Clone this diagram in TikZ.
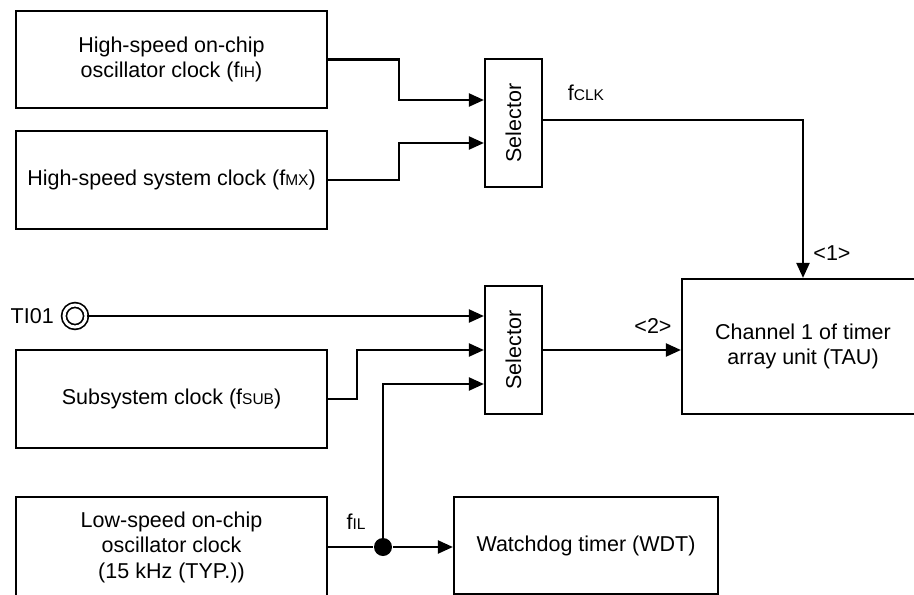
\documentclass[tikz,border=0pt]{standalone}
\usepackage{graphicx}
\usepackage{fontspec}
\setmainfont{Liberation Sans}
\usetikzlibrary{arrows.meta,positioning}
\newcommand{\fsub}[1]{{\fontsize{15.5}{15.5}\selectfont #1}}

\begin{document}
\begin{tikzpicture}[x=1pt, y=-1pt, line width=2.2pt, line join=miter, font=\fontsize{21.5}{25.5}\selectfont,
  blk/.style={draw, inner sep=0pt, align=center, minimum width=311pt},
  sel/.style={draw, inner sep=0pt, minimum width=57pt, minimum height=128pt},
  arr/.style={-{Triangle[length=15pt,width=13pt]}},
  pin/.style={draw, circle, double, double distance=3pt, line width=1.7pt, minimum size=22pt, inner sep=0pt},
  dot/.style={fill, circle, minimum size=18pt, inner sep=0pt}]
\useasboundingbox (0,0) rectangle (914,595);
\node[blk, minimum height=97pt] (hsoco) at (171.5,59.5) {High-speed on-chip\\oscillator clock (f\fsub{IH})};
\node[blk, minimum height=98pt] (hssc) at (171.5,180) {High-speed system clock (f\fsub{MX})};
\node[blk, minimum height=98pt] (subclk) at (171.5,399) {Subsystem clock (f\fsub{SUB})};
\node[blk, minimum height=100pt] (lsoco) at (171.5,547) {Low-speed on-chip\\oscillator clock\\(15 kHz (TYP.))};
\node[sel] (sel1) at (513.5,123) {\rotatebox{90}{Selector}};
\node[sel] (sel2) at (513.5,350) {\rotatebox{90}{Selector}};
\node[draw, align=center, minimum width=242pt, minimum height=135pt] (tau) at (803,346.5) {Channel 1 of timer\\array unit (TAU)};
\node[draw, minimum width=264pt, minimum height=97pt] (wdt) at (586,545.5) {Watchdog timer (WDT)};
\node[pin] (ti01) at (75,316) {};
\node[left=5pt of ti01] (ti01lbl) {TI01};
\node[dot] (jn) at (383,547) {};
\node (fclk) at (586,93) {f\fsub{CLK}};
\node (fil) at (356,522) {f\fsub{IL}};
\node (m1) at (832,253) {<1>};
\node (m2) at (653,326) {<2>};

\draw[arr] (hsoco.east) -- ++(71,0) |- ([yshift=23pt]sel1.west);
\draw[arr] (hssc.east) -- ++(71,0) |- ([yshift=-20pt]sel1.west);
\draw[arr] ([yshift=3pt]sel1.east) -| (tau.north);
\draw[arr] (ti01.east) -- (ti01 -| sel2.west);
\draw[arr] (subclk.east) -- ++(29,0) |- (sel2.west);
\draw (lsoco.east) -- (jn); \draw[arr] (jn) -- (jn -| wdt.west);
\draw[arr] (jn.center) |- ([yshift=-34pt]sel2.west);
\draw[arr] (sel2.east) -- (sel2.east -| tau.west);
\end{tikzpicture}
\end{document}
